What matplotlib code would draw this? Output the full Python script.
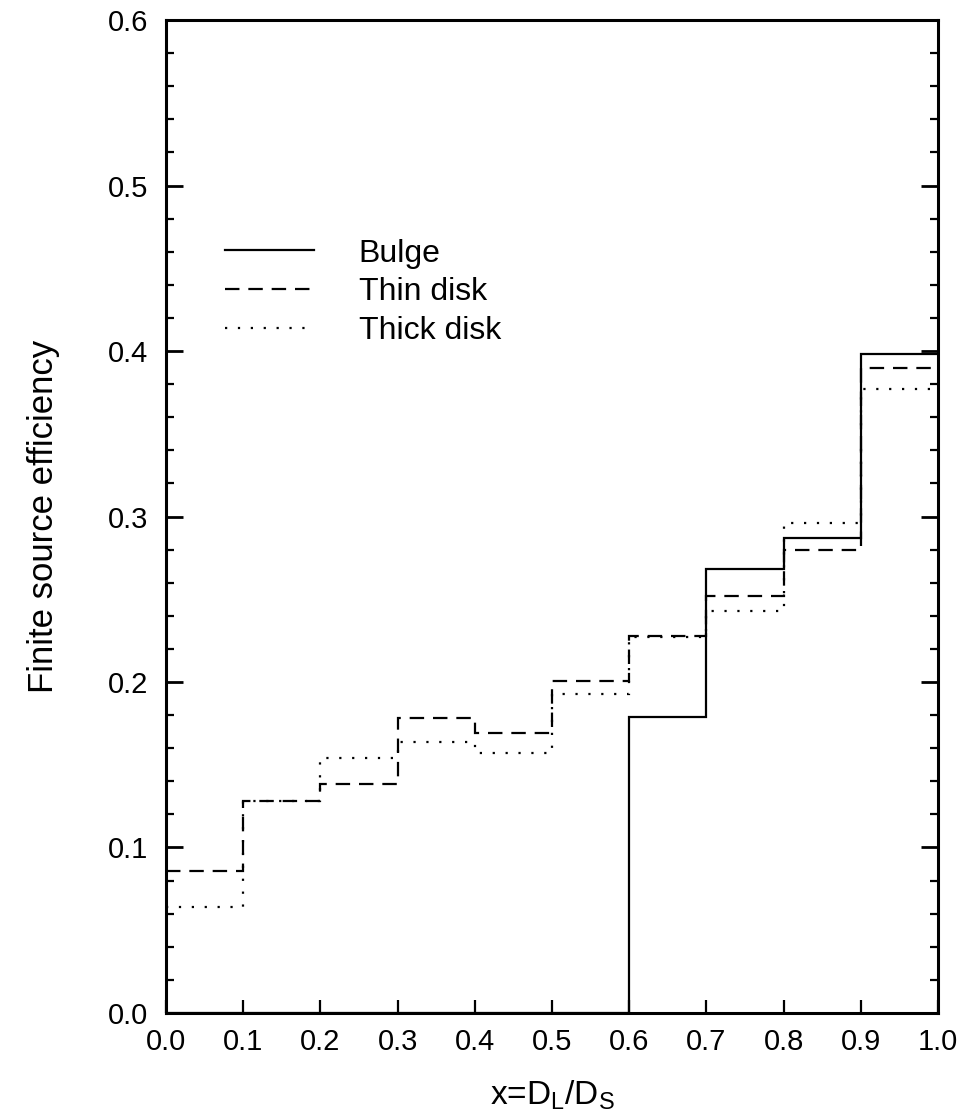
import numpy as np
import matplotlib.pyplot as plt
from matplotlib.ticker import MultipleLocator

plt.rcParams['font.family'] = ['Liberation Sans', 'DejaVu Sans']
plt.rcParams['mathtext.fontset'] = 'custom'
plt.rcParams['mathtext.rm'] = 'Liberation Sans'

# bin edges in x = D_L / D_S
edges = [0.0, 0.1, 0.2, 0.3, 0.4, 0.5, 0.6, 0.7, 0.8, 0.9, 1.0]

# finite source efficiency per bin
bulge = [0.0, 0.0, 0.0, 0.0, 0.0, 0.0, 0.179, 0.268, 0.287, 0.398]
thin_disk = [0.0855, 0.128, 0.1385, 0.178, 0.169, 0.2005, 0.228, 0.252, 0.280, 0.390]
thick_disk = [0.064, 0.128, 0.154, 0.164, 0.157, 0.193, 0.227, 0.243, 0.296, 0.377]

fig = plt.figure(figsize=(9.65, 11.18), dpi=100)
ax = fig.add_axes([0.172, 0.094, 0.8, 0.888])

ax.stairs(bulge, edges, baseline=None, color='black', lw=1.6,
          linestyle='-', label='Bulge')
ax.stairs(thin_disk, edges, baseline=None, color='black', lw=1.6,
          linestyle=(0, (6.5, 4)), label='Thin disk')
ax.stairs(thick_disk, edges, baseline=None, color='black', lw=1.6,
          linestyle=(0, (1, 4.8)), label='Thick disk')

ax.set_xlim(0, 1.0)
ax.set_ylim(0, 0.6)
ax.xaxis.set_major_locator(MultipleLocator(0.1))
ax.yaxis.set_major_locator(MultipleLocator(0.1))
ax.yaxis.set_minor_locator(MultipleLocator(0.02))
ax.xaxis.set_major_formatter(plt.FuncFormatter(lambda v, p: f'{v:.1f}'))
ax.yaxis.set_major_formatter(plt.FuncFormatter(lambda v, p: f'{v:.1f}'))

ax.tick_params(axis='y', which='major', direction='in', length=12, width=2,
               left=True, right=True, labelsize=21, pad=13)
ax.tick_params(axis='y', which='minor', direction='in', length=6, width=1.6,
               left=True, right=True)
ax.tick_params(axis='x', which='major', direction='in', length=9.5, width=1.6,
               top=False, bottom=True, labelsize=21, pad=11)
for s in ax.spines.values():
    s.set_linewidth(2.2)

ax.set_ylabel('Finite source efficiency', fontsize=25, labelpad=34)
ax.set_xlabel(r'x=D$_\mathregular{L}$/D$_\mathregular{S}$', fontsize=24,
              labelpad=16)

ax.legend(loc='upper left', bbox_to_anchor=(0.076, 0.780), frameon=False,
          fontsize=23, handlelength=2.8, handletextpad=1.4, labelspacing=0.28,
          borderpad=0, borderaxespad=0)

fig.savefig('out.png', dpi=100)
